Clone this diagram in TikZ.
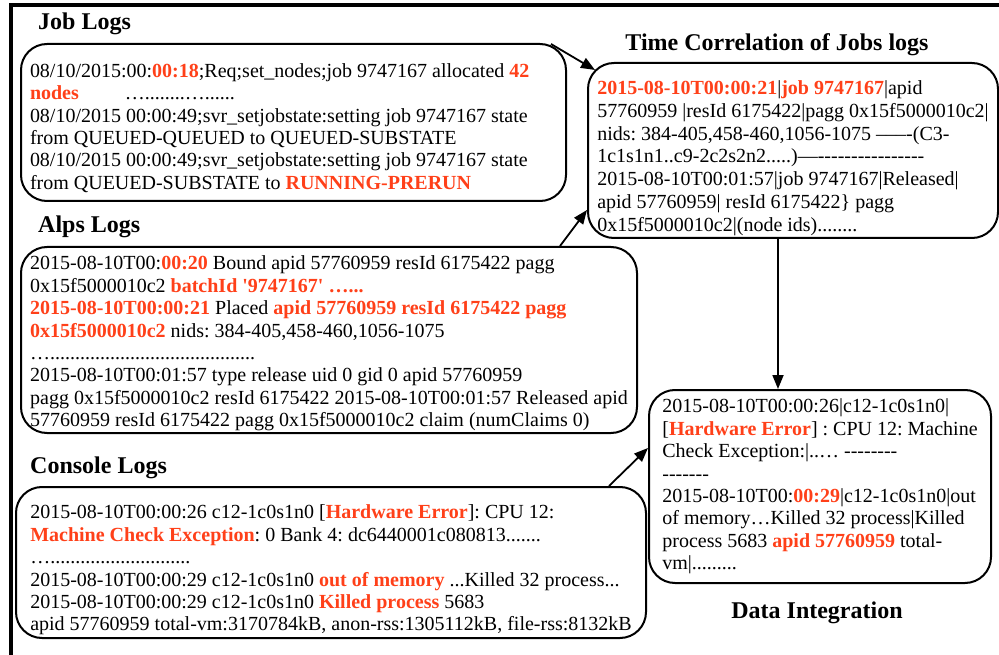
\documentclass[tikz,border=0pt]{standalone}
\usepackage{fontspec}
\setmainfont{Liberation Serif}[Ligatures=TeXOff]
\usepackage{xcolor}
\usetikzlibrary{arrows.meta}
\definecolor{logred}{HTML}{FF4019}
\newcommand{\redb}[1]{\textcolor{logred}{\textbf{#1}}}
\newcommand{\padtop}[1]{\rule{0pt}{#1}}
\newcommand{\logfont}{\fontsize{20}{22.4}\selectfont}
\newcommand{\titlefont}{\fontsize{24}{28}\selectfont\bfseries}
\frenchspacing

\begin{document}
\begin{tikzpicture}[x=1pt, y=-1pt,
    logbox/.style={draw, line width=2pt, rounded corners=26pt, align=left,
                   font=\logfont, inner sep=0pt, anchor=north west},
    title/.style={font=\titlefont, inner sep=0pt},
    arr/.style={-{Triangle[length=14pt, width=11pt]}, line width=1.8pt},
]
    \useasboundingbox (0,0) rectangle (999,655);
    % Frame
    \draw[line width=4pt] (11,655) -- (11,5) -- (999,5);

    % Titles
    \node[title, anchor=base west] (jobtitle) at (38,30) {Job Logs};
    \node[title, anchor=base west] (alpstitle) at (38,233) {Alps Logs};
    \node[title, anchor=base west] (contitle) at (30,473) {Console Logs};
    \node[title, anchor=base] (timetitle) at (777,51) {Time Correlation of Jobs logs};
    \node[title, anchor=base] (datatitle) at (817,618) {Data Integration};

    % Log boxes
    \node[logbox, align=flush left, text width=527pt, inner xsep=9pt,
          minimum height=157pt] (job) at (20,43) {%
        \padtop{25pt}08/10/2015:00:\redb{00:18};Req;set\_nodes;job 9747167 allocated \redb{42}\\
        \redb{nodes}\hspace{46pt}…........…......\\
        08/10/2015 00:00:49;svr\_setjobstate:setting job 9747167 state\\
        from QUEUED-QUEUED to QUEUED-SUBSTATE\\
        08/10/2015 00:00:49;svr\_setjobstate:setting job 9747167 state\\
        from QUEUED-SUBSTATE to \redb{RUNNING-PRERUN}};
    \node[logbox, minimum width=616pt, minimum height=186pt] (alps) at (20,246) {%
        \padtop{21pt}2015-08-10T00:\redb{00:20} Bound apid 57760959 resId 6175422 pagg\\
        0x15f5000010c2 \redb{batchId '9747167' …...}\\
        \redb{2015-08-10T00:00:21} Placed \redb{apid 57760959 resId 6175422 pagg}\\
        \redb{0x15f5000010c2} nids: 384-405,458-460,1056-1075\\
        ….........................................\\
        2015-08-10T00:01:57 type release uid 0 gid 0 apid 57760959\\
        pagg 0x15f5000010c2 resId 6175422 2015-08-10T00:01:57 Released apid\\
        57760959 resId 6175422 pagg 0x15f5000010c2 claim (numClaims 0)};
    \node[logbox, minimum width=630pt, minimum height=151pt] (con) at (15,486) {%
        \padtop{29pt}2015-08-10T00:00:26 c12-1c0s1n0 [\redb{Hardware Error}]: CPU 12:\\
        \redb{Machine Check Exception}: 0 Bank 4: dc6440001c080813.......\\
        …............................\\
        2015-08-10T00:00:29 c12-1c0s1n0 \redb{out of memory} ...Killed 32 process...\\
        2015-08-10T00:00:29 c12-1c0s1n0 \redb{Killed process} 5683\\
        apid 57760959 total-vm:3170784kB, anon-rss:1305112kB, file-rss:8132kB};
    \node[logbox, font=\fontsize{20}{22.8}\selectfont, minimum width=410pt,
          minimum height=175pt] (time) at (587,62) {%
        \padtop{29pt}\redb{2015-08-10T00:00:21}|\redb{job 9747167}|apid\\
        57760959 |resId 6175422|pagg 0x15f5000010c2|\\
        nids: 384-405,458-460,1056-1075 –––-(C3-\\
        1c1s1n1..c9-2c2s2n2.....)—----------------\\
        2015-08-10T00:01:57|job 9747167|Released|\\
        apid 57760959| resId 6175422\} pagg\\
        0x15f5000010c2|(node ids)........};
    \node[logbox, minimum width=342pt, minimum height=193pt] (data) at (648,389) {%
        2015-08-10T00:00:26|c12-1c0s1n0|\\
        {[}\redb{Hardware Error}] : CPU 12: Machine\\
        Check Exception:|..… --------\\
        -------\\
        2015-08-10T00:\redb{00:29}|c12-1c0s1n0|out\\
        of memory…Killed 32 process|Killed\\
        process 5683 \redb{apid 57760959} total-\\
        vm|.........};

    % Arrows
    \draw[arr] ([xshift=-16pt, yshift=-1pt]job.north east) -- ([xshift=8pt, yshift=-8pt]time.north west);
    \draw[arr] ([xshift=-78pt]alps.north east) -- ([yshift=29pt]time.south west);
    \draw[arr] ([xshift=-15pt]time.south) -- ([xshift=-15pt]time.south |- data.north);
    \draw[arr] ([xshift=-38pt]con.north east) -- ([yshift=-59pt]data.north west);
\end{tikzpicture}
\end{document}
